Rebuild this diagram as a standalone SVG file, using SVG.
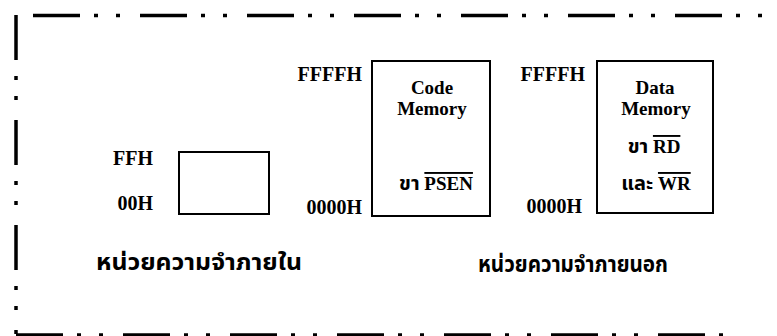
<svg xmlns="http://www.w3.org/2000/svg" width="777" height="336" viewBox="0 0 777 336">
<style>
.frame{fill:none;stroke:#000;stroke-width:3.5}
.box{fill:none;stroke:#000;stroke-width:2}
.hex{font-family:"Liberation Serif",serif;font-weight:bold;font-size:20px;fill:#000;text-anchor:end}
.lbl{font-family:"Liberation Serif",serif;font-weight:bold;font-size:19px;fill:#000;text-anchor:middle}
.th{font-family:"Noto Sans Thai","Noto Serif Thai","Garuda","Loma","Tlwg Typo","Norasi","Noto Sans","DejaVu Sans",sans-serif;font-weight:bold;font-size:20px;fill:#000}
.big{font-size:23px}
.ol{text-decoration:overline}
</style>
<rect width="777" height="336" fill="#fff"/>
<g id="frame">
<line class="frame" x1="33" y1="15.5" x2="765" y2="15.5" stroke-dasharray="47 14 4 18 4 20"/>
<line class="frame" x1="16" y1="15" x2="16" y2="334" stroke-width="4" stroke-dasharray="45 16 4 16 4 20"/>
<line class="frame" x1="16" y1="335" x2="730" y2="335" stroke="#bbb" stroke-width="2.5" stroke-dasharray="47 14 4 18 4 20"/>
</g>
<g id="internal-memory">
<rect class="box" x="179" y="152" width="90" height="62"/>
<text class="hex" x="153" y="165">FFH</text>
<text class="hex" x="153" y="210">00H</text>
<text class="th big" x="96" y="270" textLength="206" lengthAdjust="spacingAndGlyphs">หน่วยความจำภายใน</text>
</g>
<g id="code-memory">
<rect class="box" x="372" y="61" width="118" height="155"/>
<text class="hex" x="362" y="81">FFFFH</text>
<text class="hex" x="362" y="214">0000H</text>
<text class="lbl" x="432" y="94">Code</text>
<text class="lbl" x="432" y="115">Memory</text>
<text class="lbl" x="436" y="190"><tspan class="th">ขา</tspan> <tspan class="ol">PSEN</tspan></text>
</g>
<g id="data-memory">
<rect class="box" x="597" y="61" width="116" height="152"/>
<text class="hex" x="585" y="81">FFFFH</text>
<text class="hex" x="582" y="213">0000H</text>
<text class="lbl" x="655" y="94">Data</text>
<text class="lbl" x="656" y="115">Memory</text>
<text class="lbl" x="654" y="153"><tspan class="th">ขา</tspan> <tspan class="ol">RD</tspan></text>
<text class="lbl" x="656" y="190"><tspan class="th">และ</tspan> <tspan class="ol">WR</tspan></text>
<text class="th big" x="478" y="272" textLength="190" lengthAdjust="spacingAndGlyphs">หน่วยความจำภายนอก</text>
</g>
</svg>
